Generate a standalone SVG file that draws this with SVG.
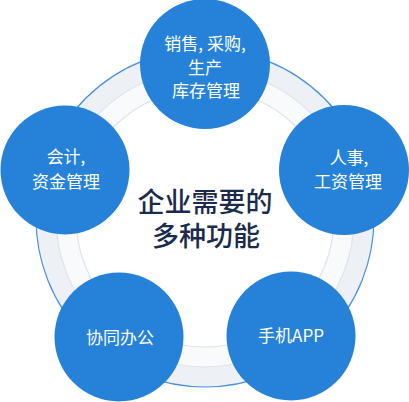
<svg xmlns="http://www.w3.org/2000/svg" width="409" height="402" viewBox="0 0 409 402">
<style>
.node{fill:#2682d9}
.t{fill:#ffffff;font-family:"Noto Sans CJK SC","Noto Sans",sans-serif;font-size:17px;text-anchor:middle}
.c{fill:#1b2b4d;font-family:"Noto Sans CJK SC","Noto Sans",sans-serif;font-size:27px;font-weight:500;text-anchor:middle}
</style>
<rect width="409" height="402" fill="#ffffff"/>
<g id="ring">
<circle cx="205" cy="218" r="169" fill="#edf1f5" stroke="#4a92dc" stroke-width="1.2"/>
<circle cx="205" cy="218" r="149" fill="#f8fafc" stroke="#dde3ea" stroke-width="1.2"/>
<circle cx="205" cy="218" r="129" fill="#ffffff" stroke="#dde3ea" stroke-width="1.2"/>
</g>
<g id="connectors"></g>
<g id="center">
<text class="c" x="205" y="212">企业需要的</text>
<text class="c" x="206" y="246">多种功能</text>
</g>
<g id="n-top">
<circle class="node" cx="205" cy="64" r="65"/>
<text class="t" x="205" y="50">销售, 采购,</text>
<text class="t" x="205" y="74">生产</text>
<text class="t" x="206" y="97">库存管理</text>
</g>
<g id="n-left">
<circle class="node" cx="65" cy="170" r="64.5"/>
<text class="t" x="66" y="163">会计,</text>
<text class="t" x="66" y="188">资金管理</text>
</g>
<g id="n-right">
<circle class="node" cx="344" cy="170" r="65"/>
<text class="t" x="349" y="164">人事,</text>
<text class="t" x="348" y="188">工资管理</text>
</g>
<g id="n-bl">
<circle class="node" cx="119" cy="337" r="64.5"/>
<text class="t" x="120" y="344">协同办公</text>
</g>
<g id="n-br">
<circle class="node" cx="291" cy="336" r="64.5"/>
<text class="t" x="291" y="342">手机APP</text>
</g>
</svg>
